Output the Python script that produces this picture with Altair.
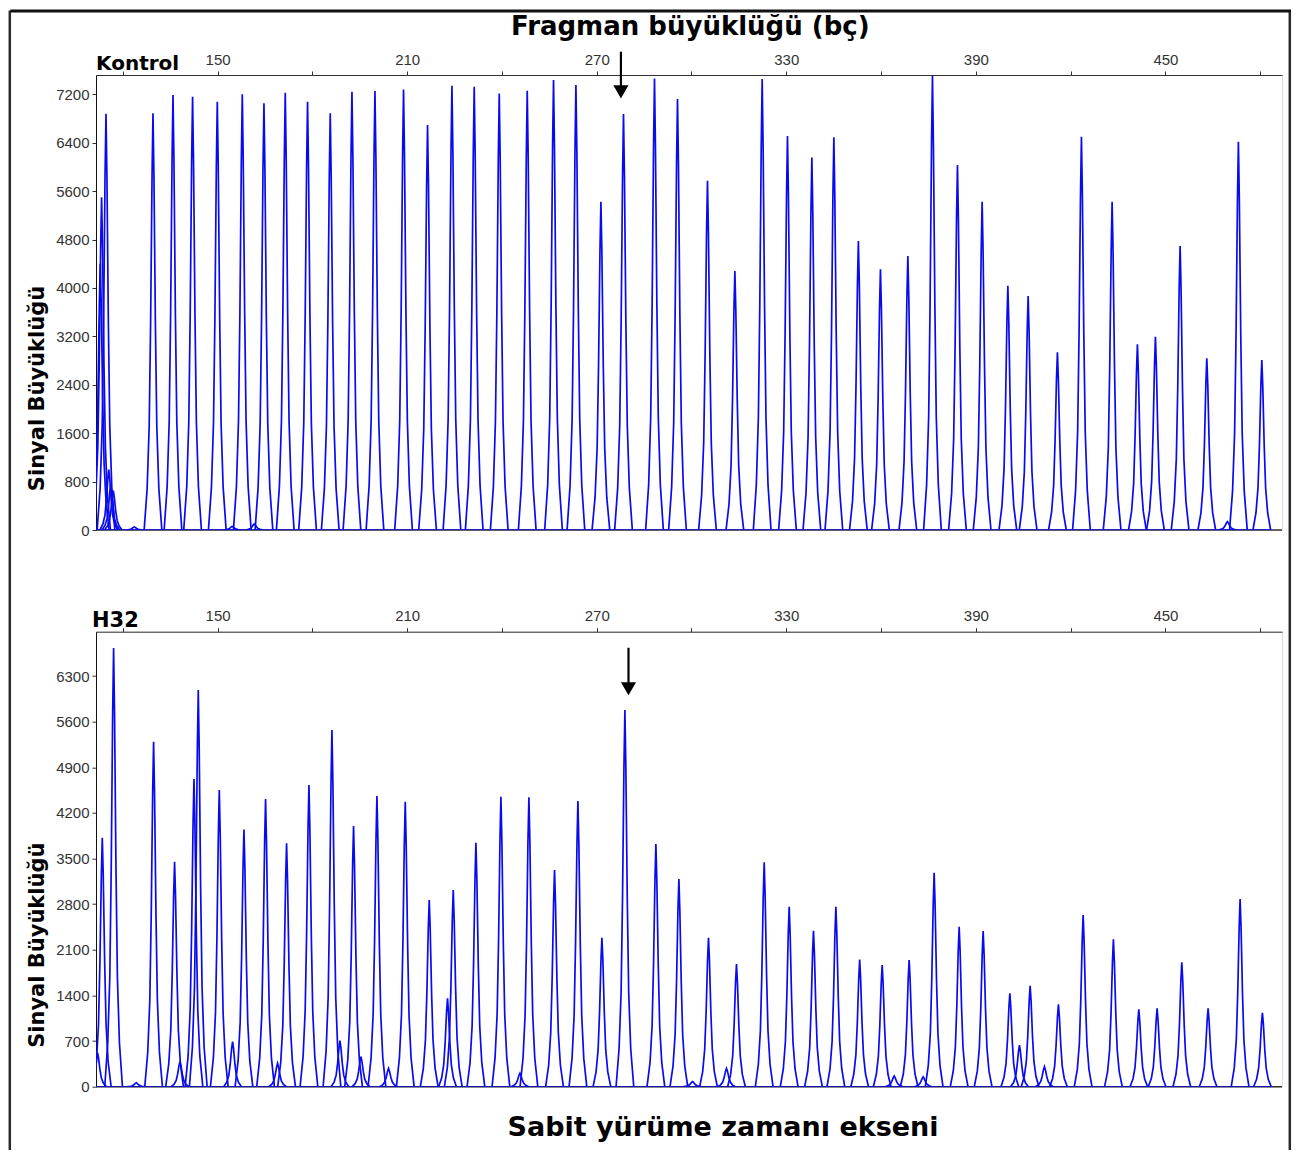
import altair as alt
import pandas as pd

# ---------------- data ----------------
# Kontrol panel: peak position (bp) and signal height
KONTROL_BP = [112.88, 113.29, 114.68, 115.57, 116.20, 116.99, 123.64, 129.56, 135.89, 142.09,
              149.91, 154.65, 157.82, 161.61, 164.68, 171.42, 178.48, 185.66, 192.53, 199.81,
              208.86, 216.46, 224.18, 231.23, 239.15, 248.01, 256.33, 263.42, 271.33, 278.48,
              288.29, 295.57, 305.06, 313.73, 322.37, 330.38, 338.10, 345.06, 352.82, 359.81,
              368.48, 376.27, 384.18, 391.99, 400.13, 406.55, 415.82, 423.42, 433.13, 441.14,
              446.84, 454.65, 463.10, 469.62, 473.10, 480.51]
KONTROL_H = [4400, 5500, 6880, 1000, 750, 650, 50, 6886, 7188, 7161,
             7078, 60, 7200, 100, 7051, 7227, 7078, 6886, 7243, 7254,
             7282, 6693, 7343, 7326, 7216, 7260, 7436, 7354, 5426, 6874,
             7464, 7122, 5773, 4280, 7453, 6511, 6158, 6489, 4776, 4308,
             4528, 7502, 6032, 5426, 4038, 3867, 2936, 6500, 5426, 3068,
             3195, 4693, 2837, 137, 6417, 2809]

# H32 panel
H32_BP = [112.03, 113.51, 117.09, 124.27, 129.75, 136.39, 138.10, 142.53, 143.89, 150.54,
          154.75, 158.35, 165.19, 168.99, 171.84, 178.92, 186.20, 188.73, 193.04, 195.38,
          200.44, 204.11, 209.40, 216.99, 222.78, 224.59, 231.77, 239.68, 245.70, 248.54,
          256.65, 264.05, 271.65, 278.92, 288.73, 296.01, 300.32, 305.38, 311.08, 314.24,
          323.01, 330.92, 338.61, 345.70, 353.23, 360.35, 364.15, 368.89, 373.32, 376.80,
          384.72, 392.31, 400.76, 403.80, 407.18, 411.71, 416.14, 423.96, 433.54, 441.58,
          447.37, 455.19, 463.51, 473.64, 480.70]
H32_H = [517, 3820, 6730, 60, 5292, 3452, 384, 4720, 6085, 4551,
         690, 3947, 4413, 358, 3733, 4628, 5472, 706, 3999, 460,
         4459, 281, 4372, 2864, 1355, 3017, 3743, 4449, 205, 4439,
         3324, 4382, 2286, 5778, 3723, 3186, 80, 2286, 281, 1882,
         3441, 2761, 2393, 2761, 1950, 1867, 164, 1944, 150, 3283,
         2454, 2388, 1432, 639, 1549, 307, 1263, 2634, 2260, 1186,
         1202, 1907, 1202, 2879, 1135]

# arrows (bp position, tail value, head value) per panel
ARROW_BP = [277.66, 280.06]
ARROW_TAIL = [7905, 6734]
ARROW_HEAD = [7241, 6104]

PANEL_NAMES = ["Kontrol", "H32"]
MAIN_TITLE = "Fragman büyüklüğü (bç)"
Y_TITLE = "Sinyal Büyüklüğü"
X_TITLE = "Sabit yürüme zamanı ekseni"

Y_DOMAINS = [[0, 7520], [0, 6980]]
Y_TICK_STEP = [400, 350]
Y_LABEL_STEP = [800, 700]
Y_TICK_MAX = [7200, 6650]

X_DOMAIN = [111.52, 486.9]
X_TICKS = [120, 150, 180, 210, 240, 270, 300, 330, 360, 390, 420, 450, 480]

# peak drawing template (offset in bp, fraction of peak height)
PROFILE_DX = [-2.8, -1.85, -1.2, -0.75, -0.3, 0.0, 0.3, 0.75, 1.2, 1.85, 2.8]
PROFILE_REL = [0.0, 0.1, 0.25, 0.5, 0.85, 1.0, 0.85, 0.5, 0.25, 0.1, 0.0]

TRACE = "#0a0af0"
AXIS_COL = "#333333"
PLOT_W, PLOT_H = 1186, 455


def peak_frame(bps, hs):
    rows = []
    for i, (p, h) in enumerate(zip(bps, hs)):
        for k, (dx, r) in enumerate(zip(PROFILE_DX, PROFILE_REL)):
            rows.append({"peak": i, "k": k, "bp": p + dx, "sig": h * r})
    return pd.DataFrame(rows)


def panel(idx, bps, hs, bottom_title=None):
    ydom = Y_DOMAINS[idx]
    yvals = list(range(0, Y_TICK_MAX[idx] + 1, Y_TICK_STEP[idx]))
    xscale = alt.Scale(domain=X_DOMAIN, nice=False, zero=False)
    yscale = alt.Scale(domain=ydom, nice=False, zero=True)

    xaxis = alt.Axis(orient="top", values=X_TICKS,
                     labelExpr="(datum.value - 150) % 60 == 0 ? datum.label : ''",
                     grid=False, tickSize=4, labelPadding=4, labelFontSize=15,
                     labelFont="Liberation Sans", labelColor="#333333",
                     domainColor=AXIS_COL, tickColor=AXIS_COL, title=None)
    yaxis = alt.Axis(values=yvals, format="d",
                     labelExpr="datum.value %% %d == 0 ? datum.label : ''" % Y_LABEL_STEP[idx],
                     grid=False, tickSize=4, labelPadding=3, labelFontSize=15,
                     labelFont="Liberation Sans", labelColor="#333333",
                     domainColor="#111111", tickColor=AXIS_COL,
                     title=Y_TITLE, titleFont="DejaVu Sans", titleFontSize=21,
                     titleFontWeight="bold", titleColor="black", titleX=-49, titleY=313)

    df = peak_frame(bps, hs)
    peaks = alt.Chart(df).mark_line(color=TRACE, strokeWidth=1.7, clip=True).encode(
        x=alt.X("bp:Q", scale=xscale, axis=xaxis),
        y=alt.Y("sig:Q", scale=yscale, axis=yaxis),
        detail="peak:N",
        order="k:Q",
    )

    base_df = pd.DataFrame({"x0": [min(bps) - 2.8], "x1": [max(bps) + 2.8], "y": [0]})
    grey_base = alt.Chart(base_df).mark_rule(color=AXIS_COL, strokeWidth=1.5).encode(
        y=alt.Y("y:Q", scale=yscale))
    blue_base = alt.Chart(base_df).mark_rule(color=TRACE, strokeWidth=1.3, clip=True).encode(
        x=alt.X("x0:Q", scale=xscale), x2="x1:Q", y=alt.Y("y:Q", scale=yscale))

    arr_df = pd.DataFrame({"bp": [ARROW_BP[idx]], "tail": [ARROW_TAIL[idx]],
                           "head": [ARROW_HEAD[idx]]})
    arrow_shaft = alt.Chart(arr_df).mark_rule(color="black", strokeWidth=2.2).encode(
        x=alt.X("bp:Q", scale=xscale), y=alt.Y("tail:Q", scale=yscale), y2="head:Q")
    arrow_head = alt.Chart(arr_df).mark_point(shape="triangle-down", filled=True,
                                              color="black", size=230, opacity=1).encode(
        x=alt.X("bp:Q", scale=xscale), y=alt.Y("head:Q", scale=yscale))

    name_df = pd.DataFrame({"t": [PANEL_NAMES[idx]]})
    name = alt.Chart(name_df).mark_text(align="left", baseline="alphabetic",
                                        font="DejaVu Sans", fontWeight="bold",
                                        fontSize=20 if idx == 0 else 21,
                                        color="black").encode(
        x=alt.value(0 if idx == 0 else -4), y=alt.value(-5), text="t:N")

    layers = [grey_base, blue_base, peaks, arrow_shaft, arrow_head, name]

    if idx == 0:
        # main title and the picture's outer frame, drawn from the top panel
        t_df = pd.DataFrame({"t": [MAIN_TITLE]})
        main_title = alt.Chart(t_df).mark_text(align="center", baseline="alphabetic",
                                               font="DejaVu Sans", fontWeight="bold",
                                               fontSize=26, color="black").encode(
            x=alt.value(594.3), y=alt.value(-40), text="t:N")
        f_df = pd.DataFrame({"f": [0]})
        frame_left = alt.Chart(f_df).mark_rule(color="#2a2a2a", strokeWidth=2.5).encode(
            x=alt.value(-86.2), y=alt.value(-64.5), y2=alt.value(1075))
        frame_right = alt.Chart(f_df).mark_rule(color="#2a2a2a", strokeWidth=2.5).encode(
            x=alt.value(1193.8), y=alt.value(-64.5), y2=alt.value(1075))
        frame_top = alt.Chart(f_df).mark_rule(color="#111111", strokeWidth=3).encode(
            y=alt.value(-64), x=alt.value(-85.7), x2=alt.value(1195))
        layers += [main_title, frame_left, frame_right, frame_top]

    layer = alt.layer(*layers)
    props = dict(width=PLOT_W, height=PLOT_H)
    if bottom_title:
        props["title"] = alt.TitleParams(bottom_title, orient="bottom", anchor="middle",
                                         font="DejaVu Sans", fontSize=27, fontWeight="bold",
                                         color="black", dx=34, offset=20)
    return layer.properties(**props)


top = panel(0, KONTROL_BP, KONTROL_H)
bottom = panel(1, H32_BP, H32_H, bottom_title=X_TITLE)

chart = alt.vconcat(top, bottom, spacing=101.7, bounds="flush").properties(
    padding={"left": 0, "top": 0, "right": 5, "bottom": 0},
).configure_view(stroke=None).configure(background="white")

chart.save("out.html", embed_options={"renderer": "svg", "actions": False})
